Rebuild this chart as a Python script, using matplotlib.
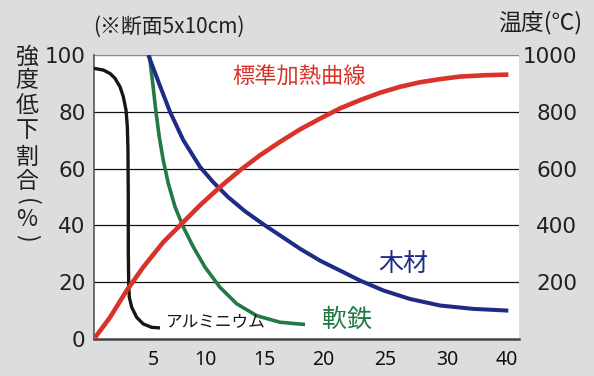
import matplotlib.pyplot as plt

# x is in "minutes" of the chart scale (label 40 sits at the right end of curves)
alu_x = [0.0, 0.90, 1.55, 2.03, 2.52, 2.84, 3.10, 3.23, 3.29, 3.32, 3.32, 3.36, 3.42, 3.65, 4.14, 4.77, 5.59, 6.39]
alu_y = [95.3, 94.7, 93.5, 91.8, 88.8, 85.3, 80.6, 74.7, 66.5, 48.8, 31.2, 19.4, 14.7, 11.2, 7.6, 5.3, 4.1, 3.9]

steel_x = [5.36, 5.69, 6.00, 6.32, 6.71, 7.20, 7.85, 8.65, 9.62, 10.75, 12.20, 13.82, 15.76, 18.01, 20.44]
steel_y = [100, 90.0, 80.0, 71.2, 62.9, 54.7, 46.5, 39.4, 32.4, 25.3, 18.2, 12.4, 8.2, 5.9, 5.1]

wood_x = [5.26, 6.30, 7.36, 8.65, 10.27, 11.53, 12.98, 14.62, 16.56, 18.01, 19.95, 21.89,
          23.83, 25.76, 28.02, 30.60, 33.51, 36.74, 40.13]
wood_y = [100, 90.0, 80.0, 70.0, 60.6, 55.3, 50.0, 45.0, 40.0, 36.5, 31.8, 27.6,
          24.1, 20.6, 17.1, 14.1, 11.8, 10.6, 10.0]

fire_x = [0.1, 1.55, 3.17, 4.77, 6.71, 8.33, 10.27, 12.20, 14.14, 16.08, 18.01, 19.95, 21.89,
          23.83, 25.76, 27.70, 29.64, 31.57, 33.51, 35.45, 38.03, 40.13]
fire_t = [5, 76, 171, 253, 341, 400, 471, 535, 594, 647, 694, 738, 776,
          812, 841, 867, 888, 904, 915, 924, 929, 931]

pct_ticks = [0, 20, 40, 60, 80, 100]
temp_ticks = [200, 400, 600, 800, 1000]
x_labels = ['5', '10', '15', '20', '25', '30', '40']
x_label_pos = [5.71, 10.75, 16.46, 22.18, 28.18, 34.19, 40.0]

JP = ['Noto Sans CJK JP', 'DejaVu Sans']
RED = '#d9322a'
BLUE = '#1f2b86'
GREEN = '#217a41'
BLACK = '#1c1412'
TXT = '#231f20'

fig = plt.figure(figsize=(5.94, 3.76), dpi=100, facecolor='#dcdddd')
ax = fig.add_axes([94 / 594, 37 / 376, 425 / 594, 284 / 376])
ax.set_facecolor('white')
ax.set_xlim(0, 425 / 10.325)
ax.set_ylim(0, 100)

for v in pct_ticks[1:-1]:
    ax.axhline(v, color='#111111', lw=0.9, zorder=1)
ax.axhline(100, color='#888888', lw=1.0, zorder=1)

kw = dict(zorder=3, solid_capstyle='butt', solid_joinstyle='round')
ax.plot(alu_x, alu_y, color=BLACK, lw=2.4, **kw)
ax.plot(steel_x, steel_y, color=GREEN, lw=2.6, **kw)
ax.plot(wood_x, wood_y, color=BLUE, lw=2.9, **kw)

for s in ['top', 'right']:
    ax.spines[s].set_visible(False)
ax.spines['left'].set_color('#555555')
ax.spines['left'].set_linewidth(1.2)
ax.spines['bottom'].set_color('#444444')
ax.spines['bottom'].set_linewidth(1.8)

ax.set_yticks(pct_ticks)
ax.set_yticklabels([str(v) for v in pct_ticks], fontfamily='DejaVu Sans', fontsize=15.5, color=TXT)
ax.set_xticks(x_label_pos)
ax.set_xticklabels(x_labels, fontfamily='Noto Sans', fontweight='bold', fontsize=14, color='#111111')
ax.tick_params(axis='y', length=0, pad=6)
ax.tick_params(axis='x', length=0, pad=8)

ax2 = ax.twinx()
ax2.set_ylim(0, 1000)
ax2.plot(fire_x, fire_t, color=RED, lw=3.3, **kw)
for s in ax2.spines.values():
    s.set_visible(False)
ax2.set_yticks(temp_ticks)
ax2.set_yticklabels([str(v) for v in temp_ticks], fontfamily='DejaVu Sans', fontsize=15.5, color=TXT)
ax2.tick_params(axis='y', length=0, pad=42)
for lab in ax2.get_yticklabels():
    lab.set_horizontalalignment('right')

# curve labels
fig.text(232 / 594, 1 - 77 / 376, '標準加熱曲線', family=JP, fontsize=16, color=RED, va='center', ha='left')
fig.text(403 / 594, 1 - 264 / 376, '木材', family=JP, fontsize=18, color=BLUE, va='center', ha='center')
fig.text(347 / 594, 1 - 320 / 376, '軟鉄', family=JP, fontsize=18, color=GREEN, va='center', ha='center')
fig.text(166 / 594, 1 - 322 / 376, 'アルミニウム', family=JP, fontsize=12, color=BLACK, va='center', ha='left')

# titles
fig.text(93 / 594, 1 - 27 / 376, '(※断面5x10cm)', family=JP, fontsize=15, color=TXT, va='center', ha='left')
fig.text(582 / 594, 1 - 22 / 376, '温度(℃)', family=JP, fontsize=16.5, color=TXT, va='center', ha='right')

# stacked vertical y-axis title
ylab = ['強', '度', '低', '下', '割', '合']
ylab_y = [57, 81, 106, 131, 157, 182]
for ch, yy in zip(ylab, ylab_y):
    fig.text(27 / 594, 1 - yy / 376, ch, family=JP, fontsize=16.5, color=TXT, va='center', ha='center')
fig.text(27 / 594, 1 - 202 / 376, '(', family=JP, fontsize=16.5, color=TXT, va='center', ha='center', rotation=-90)
fig.text(27 / 594, 1 - 220 / 376, '%', family=JP, fontsize=16.5, color=TXT, va='center', ha='center')
fig.text(27 / 594, 1 - 238 / 376, ')', family=JP, fontsize=16.5, color=TXT, va='center', ha='center', rotation=-90)

fig.savefig('out.png', dpi=100, facecolor=fig.get_facecolor())
